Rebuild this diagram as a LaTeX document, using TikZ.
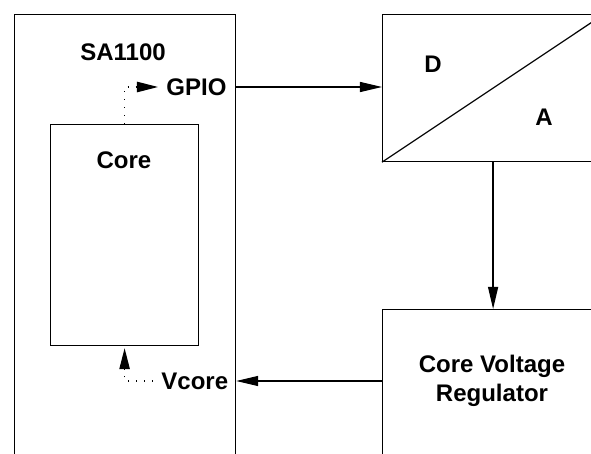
\documentclass[tikz,border=0pt]{standalone}
\usepackage{fontspec}
\setmainfont{Liberation Sans}
\usepackage{tikz}
\usetikzlibrary{positioning,arrows.meta,calc}
\tikzset{
  blk/.style={rectangle, draw=black, line width=0.6pt, inner sep=0pt},
  lbl/.style={font=\fontsize{12}{14.5}\selectfont\bfseries, inner sep=0pt, align=center},
  sig/.style={-{Triangle[length=11pt, width=5pt]}, draw=black, line width=0.6pt},
  % dotted internal paths
  dotsig/.style={-{Triangle[length=10.5pt, width=5.2pt]}, draw=black, line width=0.6pt,
    dash pattern=on 0.6pt off 3.4pt},
}
\begin{document}
\begin{tikzpicture}[x=0.5pt, y=-0.5pt]
\useasboundingbox (0,0) rectangle (591,454);
\clip (0,0) rectangle (591,454);
% processor
\node[blk, anchor=north west, minimum width=110.5pt, minimum height=260pt] (sa) at (14,14) {};
\node[lbl] (satitle) at (123,52) {SA1100};
\node[blk, anchor=north west, minimum width=74pt, minimum height=110.5pt] (core) at (50,124) {};
\node[lbl] (coretitle) at (124,160) {Core};
\node[lbl, anchor=west] (gpio) at (166,87) {GPIO};
\node[lbl, anchor=west] (vcore) at (161,381) {Vcore};
% converter
\node[blk, anchor=north west, minimum width=110.5pt, minimum height=73.5pt] (dac) at (382,14) {};
\draw[line width=0.6pt] (dac.south west) -- (dac.north east);
\node[lbl] (dlbl) at (433,64) {D};
\node[lbl] (albl) at (544,117) {A};
% regulator
\node[blk, anchor=north west, minimum width=110.5pt, minimum height=100pt] (reg) at (382,309) {};
\node[lbl] (regtxt) at (492,381) {Core Voltage\\Regulator};
% connections
\draw[sig] (sa.east |- gpio) -- (dac.west |- gpio);
\draw[sig] (dac.south) -- (reg.north);
\draw[sig] (reg.west |- vcore) -- (sa.east |- vcore);
\draw[dotsig, shorten >=4pt] (core.north) |- (gpio.west);
\draw[dotsig, shorten <=4pt, shorten >=1pt] (vcore.west) -| (core.south);
\end{tikzpicture}
\end{document}
